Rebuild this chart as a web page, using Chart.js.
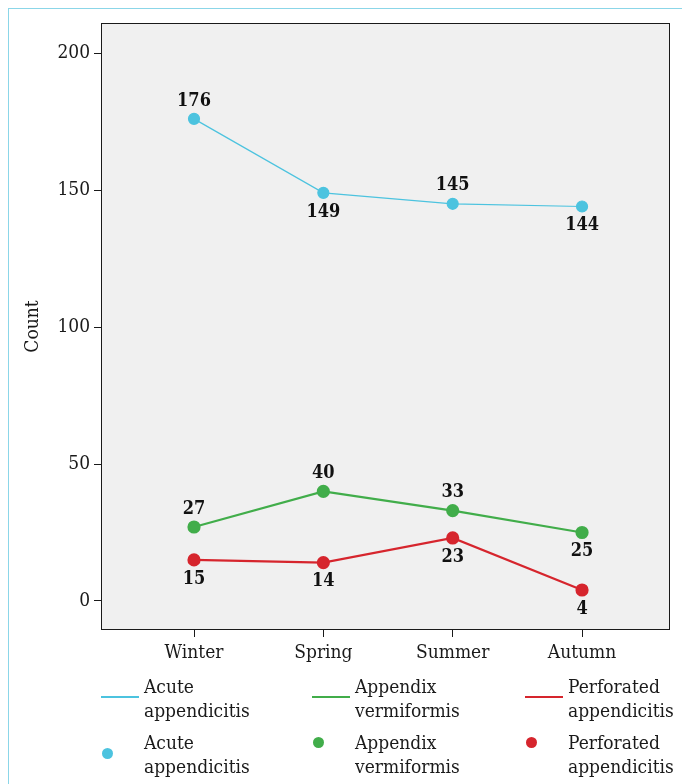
<!DOCTYPE html>
<html>
<head>
<meta charset="utf-8">
<script src="https://cdn.jsdelivr.net/npm/chart.js@4.4.1/dist/chart.umd.min.js"></script>
<style>
  body { margin: 0; background: #fff; }
  #wrap { position: relative; width: 682px; height: 784px; overflow: hidden; font-family: "DejaVu Serif Condensed", "DejaVu Serif", serif; color: #1a1a1a; }
  #frame { position: absolute; left: 8px; top: 8px; width: 720px; height: 820px; border: 1px solid #8bd6e8; }
  canvas { position: absolute; left: 0; top: 0; }
  .leg-text { position: absolute; font-size: 19px; line-height: 24px; white-space: nowrap; }
  .leg-line { position: absolute; width: 38px; height: 2px; }
  .leg-dot { position: absolute; width: 11px; height: 11px; border-radius: 50%; }
</style>
</head>
<body>
<div id="wrap">
  <div id="frame"></div>
  <canvas id="chart" width="682" height="784"></canvas>
  <div id="legend"></div>
</div>
<script>
// Data
const seasons = ["Winter", "Spring", "Summer", "Autumn"];
const acute = [176, 149, 145, 144];
const vermiformis = [27, 40, 33, 25];
const perforated = [15, 14, 23, 4];
const yTicks = [0, 50, 100, 150, 200];

const seriesNames = [
  ["Acute", "appendicitis"],
  ["Appendix", "vermiformis"],
  ["Perforated", "appendicitis"]
];
const colors = ["#4cc3df", "#41ad4a", "#d6252d"];

const FONT = '"DejaVu Serif Condensed", "DejaVu Serif", serif';

function toPoints(values) {
  return values.map((v, i) => ({ x: i + 1, y: v }));
}

// Grey plot area with a black frame
const plotFrame = {
  id: "plotFrame",
  beforeDraw(chart) {
    const { ctx, chartArea: a } = chart;
    ctx.save();
    ctx.fillStyle = "#f0f0f0";
    ctx.fillRect(a.left, a.top, a.right - a.left, a.bottom - a.top);
    ctx.restore();
  },
  beforeDatasetsDraw(chart) {
    const { ctx, chartArea: a } = chart;
    ctx.save();
    ctx.strokeStyle = "#1a1a1a";
    ctx.lineWidth = 1;
    ctx.strokeRect(Math.round(a.left) + 0.5, Math.round(a.top) + 0.5,
      Math.round(a.right - a.left) - 1, Math.round(a.bottom - a.top) - 1);
    ctx.restore();
  }
};

// Value labels above or below each point
const valueLabels = {
  id: "valueLabels",
  afterDatasetsDraw(chart) {
    const ctx = chart.ctx;
    ctx.save();
    ctx.font = "bold 18px " + FONT;
    ctx.fillStyle = "#111";
    ctx.textAlign = "center";
    ctx.textBaseline = "middle";
    chart.data.datasets.forEach((ds, di) => {
      chart.getDatasetMeta(di).data.forEach((pt, i) => {
        const dy = ds.labelSide[i] === "above" ? -18 : 19;
        ctx.fillText(ds.data[i].y, pt.x, pt.y + dy);
      });
    });
    ctx.restore();
  }
};

const ctx = document.getElementById("chart").getContext("2d");
new Chart(ctx, {
  type: "line",
  data: {
    datasets: [
      {
        label: seriesNames[0].join(" "),
        data: toPoints(acute),
        borderColor: colors[0],
        backgroundColor: colors[0],
        borderWidth: 1.2,
        pointRadius: 5.5,
        labelSide: ["above", "below", "above", "below"]
      },
      {
        label: seriesNames[1].join(" "),
        data: toPoints(vermiformis),
        borderColor: colors[1],
        backgroundColor: colors[1],
        borderWidth: 2.2,
        pointRadius: 5.5,
        labelSide: ["above", "above", "above", "below"]
      },
      {
        label: seriesNames[2].join(" "),
        data: toPoints(perforated),
        borderColor: colors[2],
        backgroundColor: colors[2],
        borderWidth: 2.2,
        pointRadius: 5.5,
        labelSide: ["below", "below", "below", "below"]
      }
    ]
  },
  options: {
    responsive: false,
    animation: false,
    layout: { padding: { top: 23, right: 12, bottom: 0, left: 0 } },
    plugins: {
      legend: { display: false },
      tooltip: { enabled: false }
    },
    scales: {
      x: {
        type: "linear",
        min: 0.281,
        max: 4.68,
        afterBuildTicks: (s) => { s.ticks = seasons.map((_, i) => ({ value: i + 1 })); },
        afterFit: (s) => { s.height = 154; },
        grid: { drawOnChartArea: false, drawTicks: true, tickLength: 7, color: "#1a1a1a" },
        border: { display: false },
        ticks: {
          callback: (v) => seasons[v - 1],
          font: { family: FONT, size: 19 },
          color: "#1a1a1a",
          padding: 5,
          maxRotation: 0
        }
      },
      y: {
        type: "linear",
        min: -10.6,
        max: 211,
        afterBuildTicks: (s) => { s.ticks = yTicks.map((v) => ({ value: v })); },
        afterFit: (s) => { s.width = 101; },
        grid: { drawOnChartArea: false, drawTicks: true, tickLength: 7, color: "#1a1a1a" },
        border: { display: false },
        ticks: {
          font: { family: FONT, size: 19 },
          color: "#1a1a1a",
          padding: 4
        },
        title: {
          display: true,
          text: "Count",
          font: { family: FONT, size: 19 },
          color: "#1a1a1a",
          padding: { top: 22, bottom: 0 }
        }
      }
    }
  },
  plugins: [plotFrame, valueLabels]
});

// Legend: a row of line markers, then a row of point markers
const legend = document.getElementById("legend");
const colX = [101, 312, 525];
const rowTop = [674, 730];
const dotOffset = [18, 7, 7];

function addText(x, y, lines) {
  const t = document.createElement("div");
  t.className = "leg-text";
  t.style.left = x + "px";
  t.style.top = y + "px";
  t.innerHTML = lines.join("<br>");
  legend.appendChild(t);
}

seriesNames.forEach((name, i) => {
  const line = document.createElement("div");
  line.className = "leg-line";
  line.style.left = colX[i] + "px";
  line.style.top = (rowTop[0] + 22) + "px";
  line.style.background = colors[i];
  legend.appendChild(line);
  addText(colX[i] + 43, rowTop[0], name);

  const dot = document.createElement("div");
  dot.className = "leg-dot";
  dot.style.left = (colX[i] + 1) + "px";
  dot.style.top = (rowTop[1] + dotOffset[i]) + "px";
  dot.style.background = colors[i];
  legend.appendChild(dot);
  addText(colX[i] + 43, rowTop[1], name);
});
</script>
</body>
</html>
